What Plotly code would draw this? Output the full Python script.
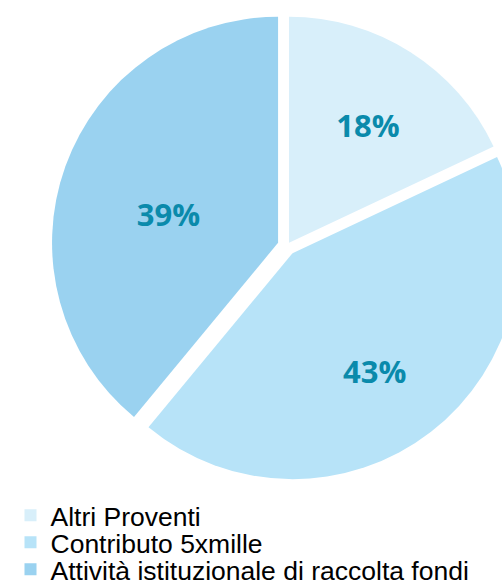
import plotly.graph_objects as go

labels = ["Altri Proventi", "Contributo 5xmille", "Attività istituzionale di raccolta fondi"]
values = [18, 43, 39]
colors = ["#d8effa", "#b7e3f8", "#9ad2f0"]
pulls = [0.017, 0.04, 0.042]

W, H = 540, 585
NB = "\u00a0"


def lead(size, indent=0):
    return '<span style="font-size:%dpx">%s</span><br>%s' % (size, NB, NB * indent)


fig = go.Figure()
fig.add_trace(go.Pie(
    labels=labels, values=values, sort=False, direction="clockwise", rotation=0,
    pull=pulls,
    marker=dict(colors=colors, line=dict(width=0)),
    texttemplate=[lead(6) + "%{percent}", lead(44, 3) + "%{percent}", lead(14) + "%{percent}"],
    textposition="inside", insidetextorientation="horizontal",
    textfont=dict(family="Open Sans", size=31, color="#0a8aab", weight="bold"),
    domain=dict(x=[51.5 / W, 522.5 / W], y=[1 - 481.5 / H, 1 - 10.5 / H]),
    showlegend=False, hoverinfo="label+percent",
))

legend_rows = [515.5, 542.5, 569.5]
legend_names = ["legend", "legend2", "legend3"]
for lab, col, ln, row in zip(labels, colors, legend_names, legend_rows):
    fig.add_trace(go.Scatter(
        x=[None], y=[None], mode="markers", name=lab, legend=ln, showlegend=True,
        marker=dict(symbol="square", size=12, color=col, line=dict(width=0)),
    ))
    fig.update_layout({ln: dict(
        x=10.5 / W, xanchor="left", y=1 - row / H, yanchor="middle",
        font=dict(family="Liberation Sans, Arial", size=26.5, color="#000000"),
        bgcolor="rgba(0,0,0,0)", borderwidth=0,
    )})

fig.update_layout(
    width=W, height=H,
    margin=dict(l=0, r=0, t=0, b=0, autoexpand=False),
    paper_bgcolor="white", plot_bgcolor="white",
    xaxis=dict(visible=False), yaxis=dict(visible=False),
)

fig.write_html(
    "out.html",
    post_script="document.documentElement.style.overflow='hidden';document.body.style.overflow='hidden';document.body.style.margin='0';",
)
